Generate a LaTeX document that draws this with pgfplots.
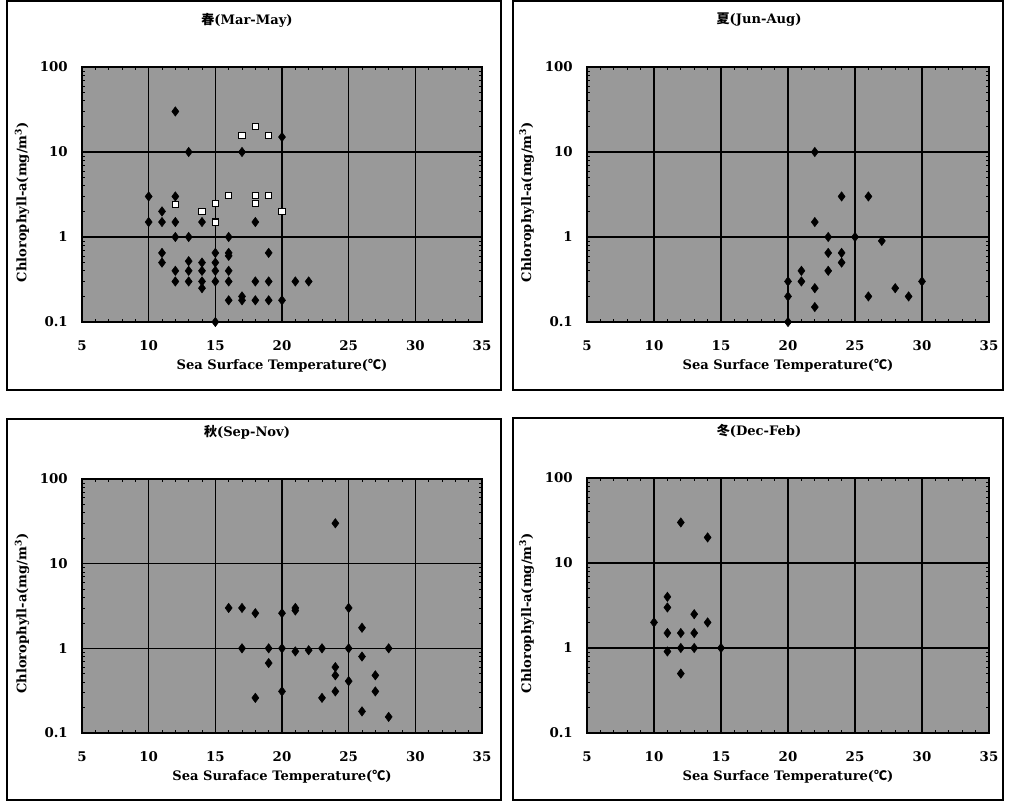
\documentclass[border=0pt]{standalone}
\usepackage{fontspec}
\setmainfont{DejaVu Serif}
\newfontfamily\cjk{Noto Sans CJK JP}
\usepackage{pgfplots}
\pgfplotsset{compat=1.18}
\definecolor{bg}{gray}{0.6}
\newcommand\degC{{\cjk ℃}}
\pgfplotsset{
  chlpanel/.style={
  scale only axis, width=300pt, height=191.25pt,
  xmin=5, xmax=35, ymin=0.1, ymax=100,
  xtick={5,10,15,20,25,30,35}, xticklabels={5,10,15,20,25,30,35},
  ytick={0.1,1,10,100}, yticklabels={0.1,1,10,100},
  grid=major, major grid style={black, line width=0.9pt},
  axis line style={black, line width=0.9pt},
  axis background/.style={fill=bg},
  tick style={black, line width=0.5pt}, major tick length=0pt, minor tick length=2pt,
  minor x tick num=4,
  clip mode=individual,
  tick label style={font=\bfseries\fontsize{10}{12}\selectfont},
  label style={font=\bfseries\fontsize{9.8}{12}\selectfont},
  title style={font=\bfseries\fontsize{9.8}{12}\selectfont},
  xticklabel style={anchor=center, yshift=-18pt, inner sep=0pt},
  yticklabel style={anchor=east, xshift=-10.5pt, inner sep=0pt},
  xlabel style={at={(axis description cs:0.5,0)}, anchor=center, yshift=-33pt},
  ylabel style={at={(axis description cs:-0.15,0.47)}, anchor=center},
  ylabel={Chlorophyll-a(mg/m\textsuperscript{3})},
  }
}
\begin{document}
\begin{tikzpicture}
\path (0pt,0pt) rectangle (756.75pt,600.75pt);
\draw[line width=0.8pt] (5.25pt,308.25pt) rectangle (375.75pt,600pt);
\draw[line width=0.8pt] (384.75pt,308.25pt) rectangle (752.25pt,600pt);
\draw[line width=0.8pt] (5.25pt,0.75pt) rectangle (375.75pt,286.5pt);
\draw[line width=0.8pt] (384.75pt,0.75pt) rectangle (752.25pt,287.25pt);

% Spring
\begin{semilogyaxis}[chlpanel, at={(61.5pt,359.25pt)}, anchor=south west,
  title={{\cjk 春}(Mar-May)}, title style={at={(axis description cs:0.4125,1.153)}, anchor=center},
  xlabel={Sea Surface Temperature(\degC)}]
\addplot[only marks, mark=diamond*, mark size=3.5pt, mark options={fill=black, draw=black}] coordinates {(12,30)(13,10)(17,10)(20,15)(10,3)(12,3)(11,2)(10,1.5)(11,1.5)(12,1.5)(14,1.5)(18,1.5)(12,1)(13,1)(16,1)(11,0.65)(15,0.65)(16,0.65)(16,0.6)(19,0.65)(11,0.5)(13,0.52)(14,0.5)(15,0.5)(12,0.4)(13,0.4)(14,0.4)(15,0.4)(16,0.4)(12,0.3)(13,0.3)(14,0.3)(15,0.3)(16,0.3)(18,0.3)(19,0.3)(21,0.3)(22,0.3)(14,0.25)(16,0.18)(17,0.2)(17,0.18)(18,0.18)(19,0.18)(20,0.18)(15,0.1)};
\addplot[only marks, mark=square*, mark size=2.3pt, mark options={fill=white, draw=black, line width=0.8pt}] coordinates {(18,20)(17,15.5)(19,15.5)(16,3.1)(18,3.1)(19,3.1)(18,2.5)(15,2.5)(12,2.4)(14,2)(20,2)(15,1.5)};
\end{semilogyaxis}

% Summer
\begin{semilogyaxis}[chlpanel, width=301.5pt, at={(440.25pt,359.25pt)}, anchor=south west,
  title={{\cjk 夏}(Jun-Aug)}, title style={at={(axis description cs:0.428,1.153)}, anchor=center},
  xlabel={Sea Surface Temperature(\degC)}]
\addplot[only marks, mark=diamond*, mark size=3.5pt, mark options={fill=black, draw=black}] coordinates {(22,10)(24,3)(26,3)(22,1.5)(23,1)(25,1)(27,0.9)(23,0.65)(24,0.65)(24,0.5)(23,0.4)(21,0.4)(20,0.3)(21,0.3)(22,0.25)(30,0.3)(28,0.25)(29,0.2)(26,0.2)(20,0.2)(22,0.15)(20,0.1)};
\end{semilogyaxis}

% Autumn
\begin{semilogyaxis}[chlpanel, height=190.5pt, at={(61.5pt,51pt)}, anchor=south west,
  title={{\cjk 秋}(Sep-Nov)}, title style={at={(axis description cs:0.4125,1.153)}, anchor=center},
  xlabel={Sea Suraface Temperature(\degC)}]
\addplot[only marks, mark=diamond*, mark size=3.5pt, mark options={fill=black, draw=black}] coordinates {(24,30)(16,3)(17,3)(18,2.6)(20,2.6)(21,3)(21,2.8)(25,3)(26,1.75)(17,1)(19,1)(20,1)(21,0.92)(22,0.95)(23,1)(25,1)(28,1)(26,0.8)(19,0.67)(24,0.6)(24,0.48)(25,0.41)(27,0.48)(20,0.31)(24,0.31)(27,0.31)(18,0.26)(23,0.26)(26,0.18)(28,0.155)};
\end{semilogyaxis}

% Winter
\begin{semilogyaxis}[chlpanel, width=301.5pt, at={(440.25pt,51pt)}, anchor=south west,
  title={{\cjk 冬}(Dec-Feb)}, title style={at={(axis description cs:0.428,1.153)}, anchor=center},
  xlabel={Sea Surface Temperature(\degC)}]
\addplot[only marks, mark=diamond*, mark size=3.5pt, mark options={fill=black, draw=black}] coordinates {(12,30)(14,20)(11,4)(11,3)(13,2.5)(10,2)(14,2)(11,1.5)(12,1.5)(13,1.5)(11,0.91)(12,1)(13,1)(15,1)(12,0.5)};
\end{semilogyaxis}
\end{tikzpicture}
\end{document}
